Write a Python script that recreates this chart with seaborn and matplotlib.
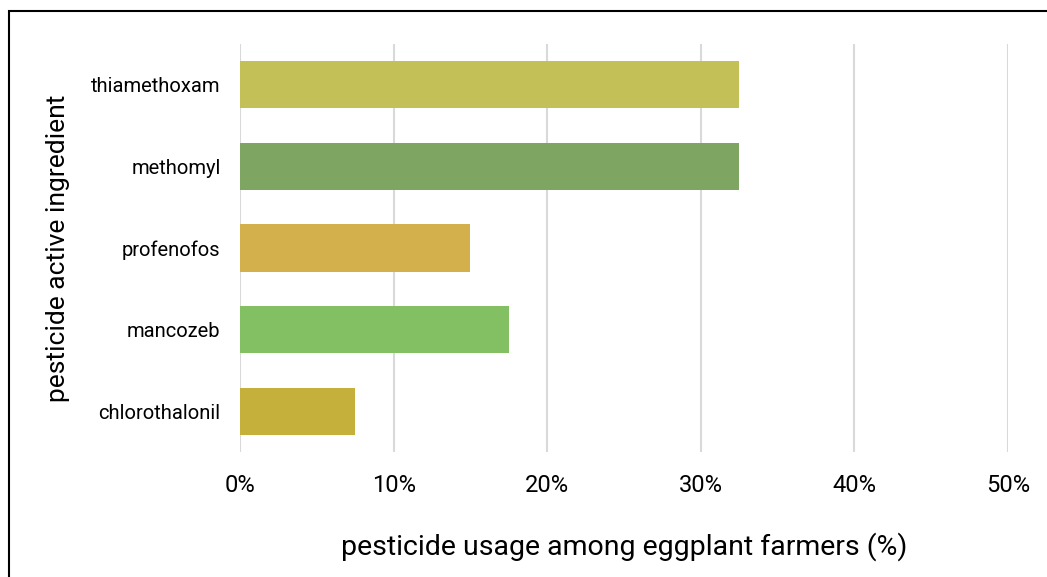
import matplotlib
matplotlib.use("Agg")
import matplotlib.pyplot as plt
import seaborn as sns
import pandas as pd
from matplotlib.patches import Rectangle
from matplotlib.ticker import FuncFormatter

ingredients = ["thiamethoxam", "methomyl", "profenofos", "mancozeb", "chlorothalonil"]
usage_pct = [32.5, 32.5, 15.0, 17.5, 7.5]
bar_colors = ["#C3C058", "#7EA562", "#D4B04C", "#83C063", "#C5B03B"]
x_ticks = [0, 10, 20, 30, 40, 50]

df = pd.DataFrame({"ingredient": ingredients, "usage": usage_pct})

sns.set_style("white")
plt.rcParams["font.family"] = ["Roboto", "DejaVu Sans"]
plt.rcParams["text.color"] = "black"
plt.rcParams["axes.labelcolor"] = "black"
plt.rcParams["xtick.color"] = "black"
plt.rcParams["ytick.color"] = "black"

fig = plt.figure(figsize=(10.47, 5.77), dpi=100)
ax = fig.add_axes([240 / 1047, 1 - 452 / 577, 768 / 1047, 408 / 577])

sns.barplot(data=df, x="usage", y="ingredient", hue="ingredient",
            palette=bar_colors, width=0.58, legend=False, ax=ax,
            edgecolor="none", saturation=1)

ax.set_xlim(0, 50)
ax.set_ylim(4.5, -0.5)
ax.set_xticks(x_ticks)
ax.xaxis.set_major_formatter(FuncFormatter(lambda v, _: f"{v:.0f}%"))
ax.grid(axis="x", color="#d9d9d9", linewidth=1.5)
ax.set_axisbelow(True)
for s in ax.spines.values():
    s.set_visible(False)
ax.tick_params(axis="both", length=0)
ax.tick_params(axis="x", labelsize=17, pad=16)
ax.tick_params(axis="y", labelsize=14.5, pad=14)

ax.set_xlabel("pesticide usage among eggplant farmers (%)", fontsize=20.5, labelpad=25)
ax.set_ylabel("pesticide active ingredient", fontsize=19, labelpad=15)

# outer frame around the chart area
fig.patches.append(Rectangle((9 / 1047, -0.1), 1.2, 1 - 11 / 577 + 0.1,
                             transform=fig.transFigure, fill=False,
                             edgecolor="black", linewidth=1.5))

fig.savefig("out.png", dpi=100)
